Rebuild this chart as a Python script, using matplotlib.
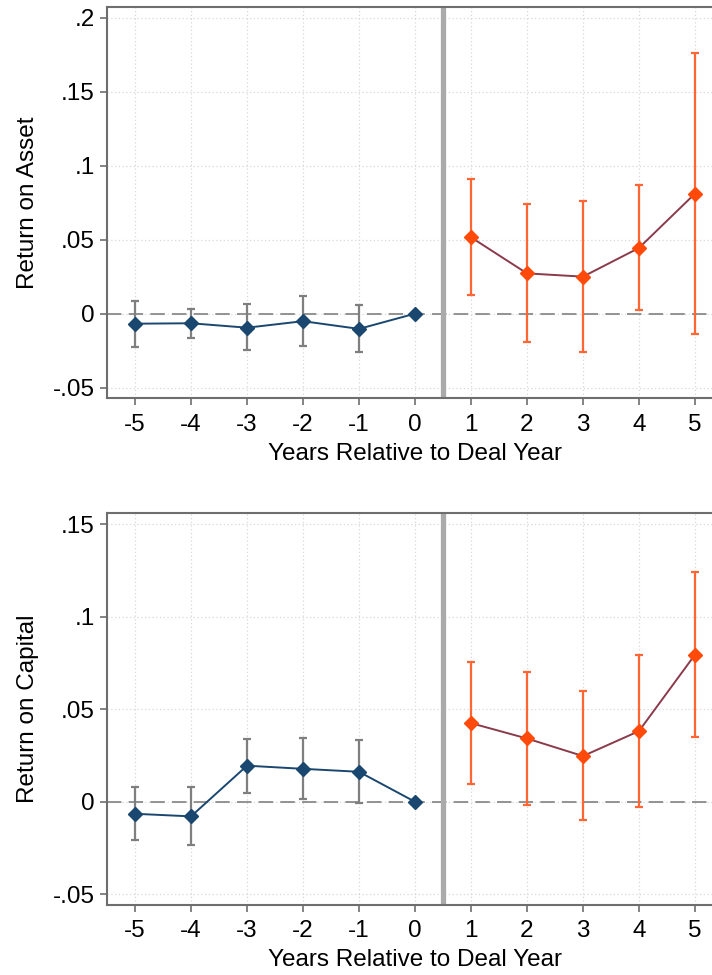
import numpy as np
import matplotlib
matplotlib.use("Agg")
from matplotlib import pyplot as plt
from matplotlib.ticker import FixedLocator, FuncFormatter

plt.rcParams['font.family'] = ['Liberation Sans', 'DejaVu Sans']
plt.rcParams['axes.unicode_minus'] = False

# event-time coefficients with 95% CI bounds
years_pre = [-5, -4, -3, -2, -1, 0]
years_post = [1, 2, 3, 4, 5]

roa_pre = [-0.0068, -0.0065, -0.0095, -0.0051, -0.0103, 0.0]
roa_pre_lo = [-0.0223, -0.0166, -0.0243, -0.0220, -0.0257, 0.0]
roa_pre_hi = [0.0086, 0.0030, 0.0064, 0.0118, 0.0061, 0.0]
roa_post = [0.0516, 0.0272, 0.0250, 0.0444, 0.0811]
roa_post_lo = [0.0124, -0.0191, -0.0259, 0.0022, -0.0140]
roa_post_hi = [0.0912, 0.0741, 0.0761, 0.0867, 0.1764]

roc_pre = [-0.0065, -0.0079, 0.0195, 0.0178, 0.0162, 0.0]
roc_pre_lo = [-0.0209, -0.0232, 0.0049, 0.0015, -0.0005, 0.0]
roc_pre_hi = [0.0081, 0.0079, 0.0339, 0.0346, 0.0333, 0.0]
roc_post = [0.0425, 0.0342, 0.0247, 0.0382, 0.0795]
roc_post_lo = [0.0094, -0.0015, -0.0097, -0.0027, 0.0348]
roc_post_hi = [0.0757, 0.0703, 0.0596, 0.0793, 0.1243]

roa_yticks = [-0.05, 0, 0.05, 0.1, 0.15, 0.2]
roc_yticks = [-0.05, 0, 0.05, 0.1, 0.15]

NAVY = '#1a476f'
GREY_CI = '#7f7f7f'
ORANGE = '#ff4a0a'
ORANGE_CI = '#ff6633'
MAROON = '#8b3a4a'
FRAME = '#6e6e6e'
FS = 17.5


def stata_fmt(v, pos=None):
    s = f"{v:g}"
    return s.replace("0.", ".")


def draw_panel(ax, pre, pre_lo, pre_hi, post, post_lo, post_hi, yticks, ylim, ylabel):
    ax.set_xlim(-5.5, 5.5)
    ax.set_ylim(*ylim)

    # light dotted grid on every tick
    for x in range(-5, 6):
        ax.axvline(x, color='#d8d8d8', lw=0.9, ls=(0, (1, 2)), zorder=0)
    for y in yticks:
        ax.axhline(y, color='#d8d8d8', lw=0.9, ls=(0, (1, 2)), zorder=0)

    ax.axhline(0, color='#8a8a8a', lw=1.3, ls=(0, (8, 4)), zorder=1)
    ax.axvline(0.5, color='#aaaaaa', lw=3.8, zorder=1)

    pre = np.array(pre)
    lo = np.array(pre_lo)
    hi = np.array(pre_hi)
    xs = np.array(years_pre)
    m = hi > lo
    ax.errorbar(xs[m], pre[m], yerr=[pre[m] - lo[m], hi[m] - pre[m]], fmt='none',
                ecolor=GREY_CI, elinewidth=1.6, capsize=3, capthick=1.6, zorder=2)
    ax.plot(xs, pre, color=NAVY, lw=1.4, marker='D', ms=7, zorder=3)

    post = np.array(post)
    lo = np.array(post_lo)
    hi = np.array(post_hi)
    ax.errorbar(years_post, post, yerr=[post - lo, hi - post], fmt='none',
                ecolor=ORANGE_CI, elinewidth=1.6, capsize=3, capthick=1.6, zorder=2)
    ax.plot(years_post, post, color=MAROON, lw=1.4, zorder=3)
    ax.plot(years_post, post, ls='none', marker='D', ms=7, color=ORANGE, zorder=4)

    ax.xaxis.set_major_locator(FixedLocator(range(-5, 6)))
    ax.yaxis.set_major_locator(FixedLocator(yticks))
    ax.yaxis.set_major_formatter(FuncFormatter(stata_fmt))
    ax.tick_params(axis='both', direction='out', length=5, width=1.2, color=FRAME,
                   labelsize=FS)
    ax.tick_params(axis='x', pad=6)
    ax.tick_params(axis='y', pad=4)
    for sp in ax.spines.values():
        sp.set_color(FRAME)
        sp.set_linewidth(1.5)
    ax.set_ylabel(ylabel, fontsize=FS, labelpad=10)
    ax.set_xlabel('Years Relative to Deal Year', fontsize=FS, labelpad=5)


fig = plt.figure(figsize=(7.12, 9.75), dpi=100)
ax1 = fig.add_axes([0.1503, 0.5915, 0.8651, 0.4016])
ax2 = fig.add_axes([0.1503, 0.0718, 0.8651, 0.4017])

draw_panel(ax1, roa_pre, roa_pre_lo, roa_pre_hi, roa_post, roa_post_lo, roa_post_hi,
           roa_yticks, (-0.0572, 0.2074), 'Return on Asset')
draw_panel(ax2, roc_pre, roc_pre_lo, roc_pre_hi, roc_post, roc_post_lo, roc_post_hi,
           roc_yticks, (-0.0558, 0.1559), 'Return on Capital')

fig.savefig('out.png', dpi=100)
